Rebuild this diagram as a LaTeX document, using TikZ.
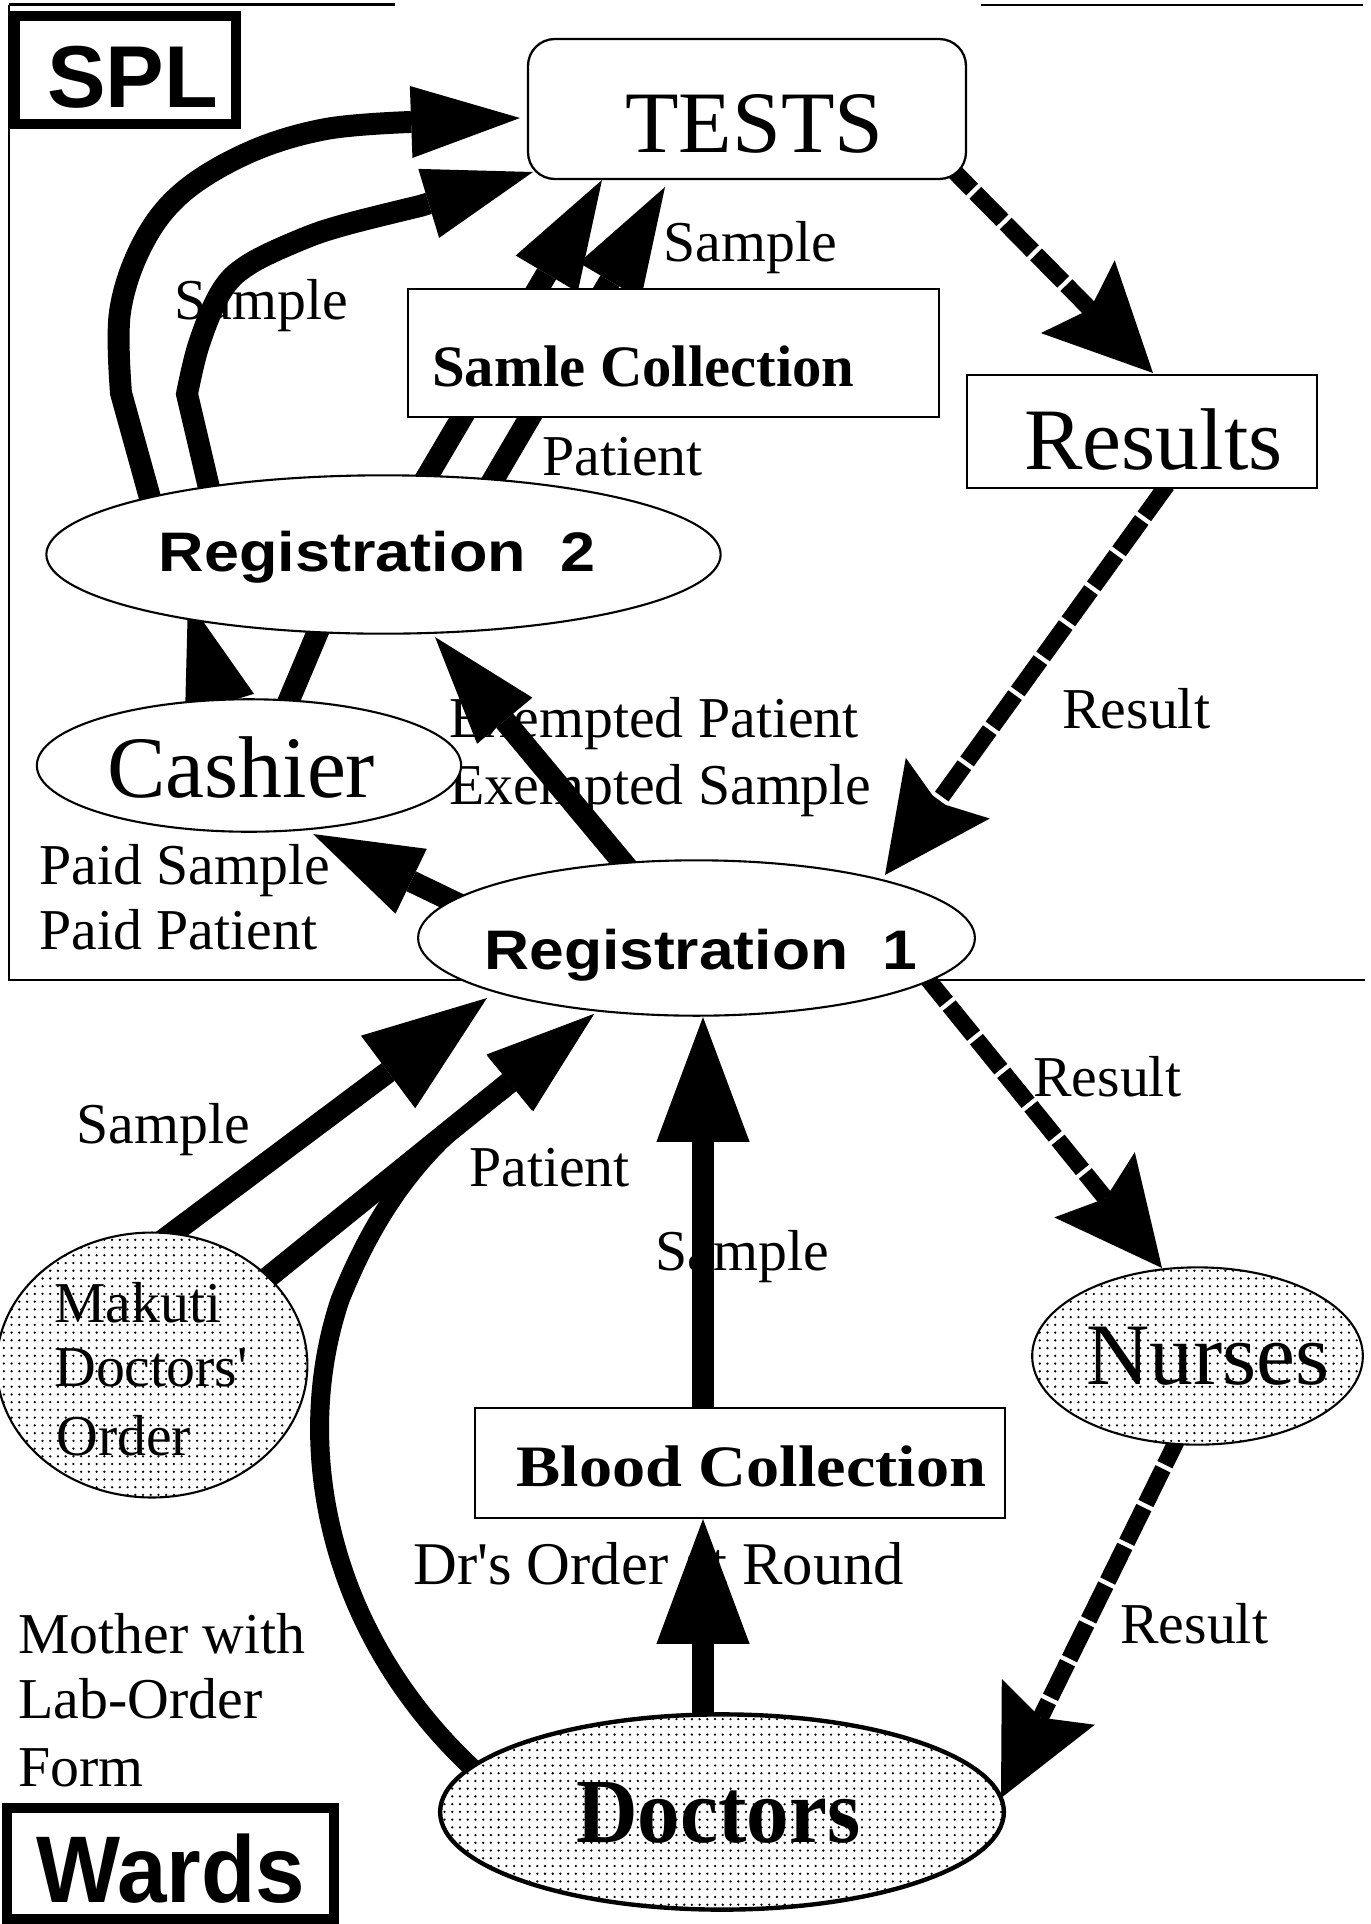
\documentclass[tikz,border=0pt]{standalone}
\usepackage{fontspec}
\usepackage{graphicx}
\usetikzlibrary{arrows.meta,shapes.geometric,patterns.meta,fit}
\newfontfamily\tnr{Liberation Serif}
\newfontfamily\arl{Liberation Sans}
\newcommand{\hsc}[2]{\scalebox{#1}[1]{#2}}
\pgfdeclarelayer{lab}
\pgfdeclarelayer{arr}
\pgfsetlayers{lab,arr,main}
\tikzdeclarepattern{
  name=sdots,
  type=uncolored,
  bottom left={(-0.5pt,-0.5pt)},
  top right={(4.9pt,4.9pt)},
  tile size={(4.4pt,4.4pt)},
  code={\pgfpathcircle{\pgfpoint{2.2pt}{2.2pt}}{0.72pt}\pgfusepath{fill}}
}
\tikzset{
  lbl/.style={font=\tnr\fontsize{32.9}{38}\selectfont, inner sep=0pt, anchor=base west},
  bigt/.style={font=\tnr\fontsize{49.9}{56}\selectfont, inner sep=0pt, anchor=base west},
  regf/.style={font=\arl\bfseries\fontsize{31.7}{36}\selectfont, inner sep=0pt, anchor=base west},
  boldt/.style={font=\tnr\bfseries\fontsize{33.4}{38}\selectfont, inner sep=0pt, anchor=base west},
  box/.style={draw, fill=white, line width=1.3pt, inner sep=0pt},
  ell/.style={ellipse, draw, fill=white, line width=1.2pt, inner sep=0pt},
  dotell/.style={ellipse, draw, line width=1.2pt, inner sep=0pt, preaction={fill=white}, pattern=sdots},
  frame/.style={line width=1.2pt},
  flow/.style={line width=12.5pt, -{Triangle[length=62pt,width=41pt,line width=0pt 0 0]}},
  bigflow/.style={line width=12.5pt, -{Triangle[length=70.3pt,width=51.6pt,line width=0pt 0 0]}},
  vflow/.style={line width=12.5pt, -{Triangle[length=71pt,width=53pt,line width=0pt 0 0]}},
  res/.style={line width=9.5pt, dash pattern=on 22pt off 2.6pt, -{Stealth[length=61pt,width=59pt,inset=10pt,line width=0pt 0 0]}}
}
\begin{document}
\begin{tikzpicture}[x=0.02cm,y=-0.02cm]
\useasboundingbox (0,0) rectangle (1371,1924);

% ---------- nodes (main layer) ----------
\node[box, line width=5.7pt, fit={(15,16) (236,124)}] (spl) {};
\node[box, rounded corners=15.3pt, fit={(528,39) (966,179)}] (tests) {};
\node[box, fit={(408,289) (939,417)}] (samle) {};
\node[box, fit={(967,375) (1317,488)}] (results) {};
\node[box, fit={(475,1408) (1005,1518)}] (blood) {};
\node[box, line width=5.7pt, fit={(7,1808) (334,1919)}] (wards) {};
\node[ell, minimum width={677*0.5669pt}, minimum height={159*0.5669pt}] (reg2) at (383.5,554.5) {};
\node[ell, minimum width={426*0.5669pt}, minimum height={133*0.5669pt}] (cashier) at (249,765.5) {};
\node[ell, minimum width={559*0.5669pt}, minimum height={156*0.5669pt}] (reg1) at (696.5,938) {};
\node[dotell, minimum width={312*0.5669pt}, minimum height={266*0.5669pt}] (makuti) at (152,1365) {};
\node[dotell, minimum width={332*0.5669pt}, minimum height={178*0.5669pt}] (nurses) at (1197.5,1356) {};
\node[dotell, line width=2.5pt, minimum width={566*0.5669pt}, minimum height={196*0.5669pt}] (doctors) at (722,1812) {};

% node texts
\node[font=\arl\bfseries\fontsize{50}{56}\selectfont, inner sep=0pt, anchor=base west] (splt) at (47,107) {SPL};
\node[bigt] (testst) at (625,152) {TESTS};
\node[boldt] (samlet) at (432,386) {Samle Collection};
\node[bigt] (resultst) at (1024,469) {Results};
\node[regf] (reg2t) at (158.5,571) {\hsc{1.13}{Registration~~2}};
\node[bigt] (cashiert) at (107,797) {Cashier};
\node[regf] (reg1t) at (484,969) {\hsc{1.12}{Registration~~1}};
\node[lbl] (mak1) at (54,1322) {Makuti};
\node[lbl] (mak2) at (54,1386) {Doctors'};
\node[lbl] (mak3) at (56,1455) {Order};
\node[bigt] (nursest) at (1086,1384) {Nurses};
\node[boldt] (bloodt) at (516,1486) {\hsc{1.13}{Blood Collection}};
\node[font=\tnr\bfseries\fontsize{52.2}{58}\selectfont, inner sep=0pt, anchor=base west] (doctorst) at (576,1842) {\hsc{0.93}{Doctors}};
\node[font=\arl\bfseries\fontsize{53.9}{60}\selectfont, inner sep=0pt, anchor=base west] (wardst) at (36,1902) {\hsc{0.94}{Wards}};

% ---------- labels and frame ----------
\begin{pgfonlayer}{lab}
\draw[frame] (9,4.5) -- (395,4.5);
\draw[frame] (981,5.4) -- (1363,5.4);
\draw[frame] (9,4.5) -- (9,980) -- (1365,980);
\node[lbl] (l1) at (174,319) {Sample};
\node[lbl] (l2) at (663,261) {Sample};
\node[lbl] (l3) at (542,475) {Patient};
\node[lbl] (l4) at (1062,728) {Result};
\node[lbl] (l5) at (449,737) {Exempted Patient};
\node[lbl] (l6) at (449,804) {Exempted Sample};
\node[lbl] (l7) at (39,884) {Paid Sample};
\node[lbl] (l8) at (39,949) {Paid Patient};
\node[lbl] (l9) at (1033,1096) {Result};
\node[lbl] (l10) at (76,1143) {Sample};
\node[lbl] (l11) at (469,1186) {Patient};
\node[lbl] (l12) at (655,1270) {Sample};
\node[lbl, font=\tnr\fontsize{34.5}{40}\selectfont] (l13) at (413,1584) {Dr's Order at Round};
\node[lbl] (l14) at (1120,1643) {Result};
\node[lbl] (l15) at (18,1653) {Mother with};
\node[lbl] (l16) at (18,1718) {Lab-Order};
\node[lbl] (l17) at (18,1786) {Form};
\end{pgfonlayer}

% ---------- connectors ----------
\coordinate (r2out) at (152,505);
\coordinate (r2in) at (210,492);
\coordinate (r2a) at (418,492);
\coordinate (r2b) at (486,492);
\coordinate (tsA) at (520,118);
\coordinate (tsB) at (533,172);
\coordinate (tsC) at (602,180);
\coordinate (tsD) at (665,187);
\coordinate (r1ex) at (640,883);
\coordinate (r2ex) at (435,637);
\coordinate (r1ca) at (475,912);
\coordinate (caIn) at (313,834);
\coordinate (caUp) at (240,772);
\coordinate (r2wd) at (188,600);
\coordinate (caS) at (284,712);
\coordinate (r2S) at (322,622);
\coordinate (mkA) at (150,1250);
\coordinate (r1A) at (487,998);
\coordinate (mkB) at (240,1300);
\coordinate (r1B) at (594,1014);
\coordinate (dcC) at (480,1775);
\coordinate (blTop) at (703,1430);
\coordinate (r1V) at (703,1017);
\coordinate (dcV) at (703,1740);
\coordinate (blV) at (703,1519);
\coordinate (tsR) at (945,162);
\coordinate (rsT) at (1153,373);
\coordinate (rsB) at (1167,485);
\coordinate (r1R) at (885,875);
\coordinate (r1N) at (922,972);
\coordinate (nuT) at (1162,1268);
\coordinate (nuB) at (1182,1430);
\coordinate (dcR) at (1001,1798);

\begin{pgfonlayer}{arr}
\draw[flow] (r2out) -- plot[smooth, tension=0.6] coordinates {(121,393) (120,312) (143,243) (183,192) (250,152) (326,129) (410,122)} -- (tsA);
\draw[flow] (r2in) -- (187,394) -- plot[smooth, tension=0.6] coordinates {(187,394) (199,344) (221,292) (248,265) (300,240) (344,225) (420,206)} -- (tsB);
\draw[flow] (r2a) -- (tsC);
\draw[flow] (r2b) -- (tsD);
\draw[flow] (r1ex) -- (r2ex);
\draw[flow] (r1ca) -- (caIn);
\draw[flow] (caUp) -- (r2wd);
\draw[line width=12.5pt] (caS) -- (r2S);
\draw[bigflow] (mkA) -- (r1A);
\draw[flow] (mkB) -- (r1B);
\draw[flow, line width=10.8pt] (dcC) .. controls (330,1640) and (290,1450) .. (340,1300) .. controls (380,1200) and (430,1140) .. (500,1092) -- (r1B);
\draw[vflow] (blTop) -- (r1V);
\draw[vflow] (dcV) -- (blV);
\draw[res] (tsR) -- (rsT);
\draw[res] (rsB) -- (r1R);
\draw[res] (r1N) -- (nuT);
\draw[res] (nuB) -- (dcR);
\end{pgfonlayer}
\end{tikzpicture}
\end{document}
